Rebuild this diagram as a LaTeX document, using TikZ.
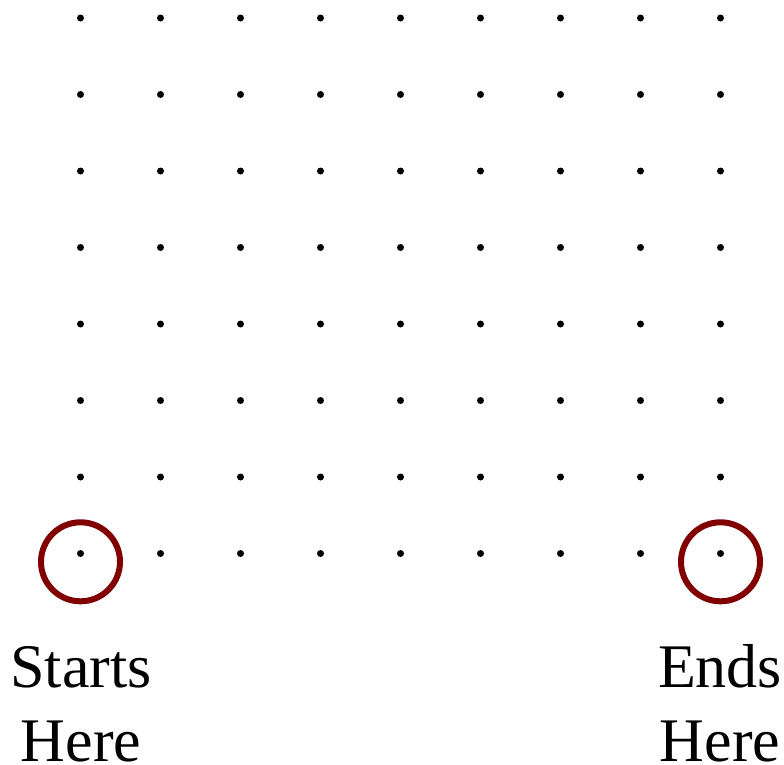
\documentclass[tikz,border=0pt]{standalone}
\usepackage{fontspec}
\setmainfont{Liberation Serif}
\definecolor{ringred}{HTML}{800000}
\tikzset{
  griddot/.style={circle,fill=black,inner sep=0pt,minimum size=7pt},
  ring/.style={circle,draw=ringred,line width=6pt,inner sep=0pt,minimum size=79pt},
  label/.style={align=center,anchor=base,inner sep=0pt,font=\fontsize{62}{74}\selectfont}
}
\begin{document}
\begin{tikzpicture}[x=1pt,y=-1pt]
\useasboundingbox (0,0) rectangle (784,764);
\foreach \i in {0,...,8}{
  \foreach \j in {0,...,7}{
    \node[griddot] (d\i-\j) at ({80.5+80*\i},{18+76.5*\j}) {};
  }
}
\node[ring] (start) at (80.5,561.8) {};
\node[ring] (end) at (720.5,561.8) {};
\node[label] (startlbl) at (81,761.7) {Starts\\Here};
\node[label] (endlbl) at (720,761.7) {Ends\\Here};
\end{tikzpicture}
\end{document}
